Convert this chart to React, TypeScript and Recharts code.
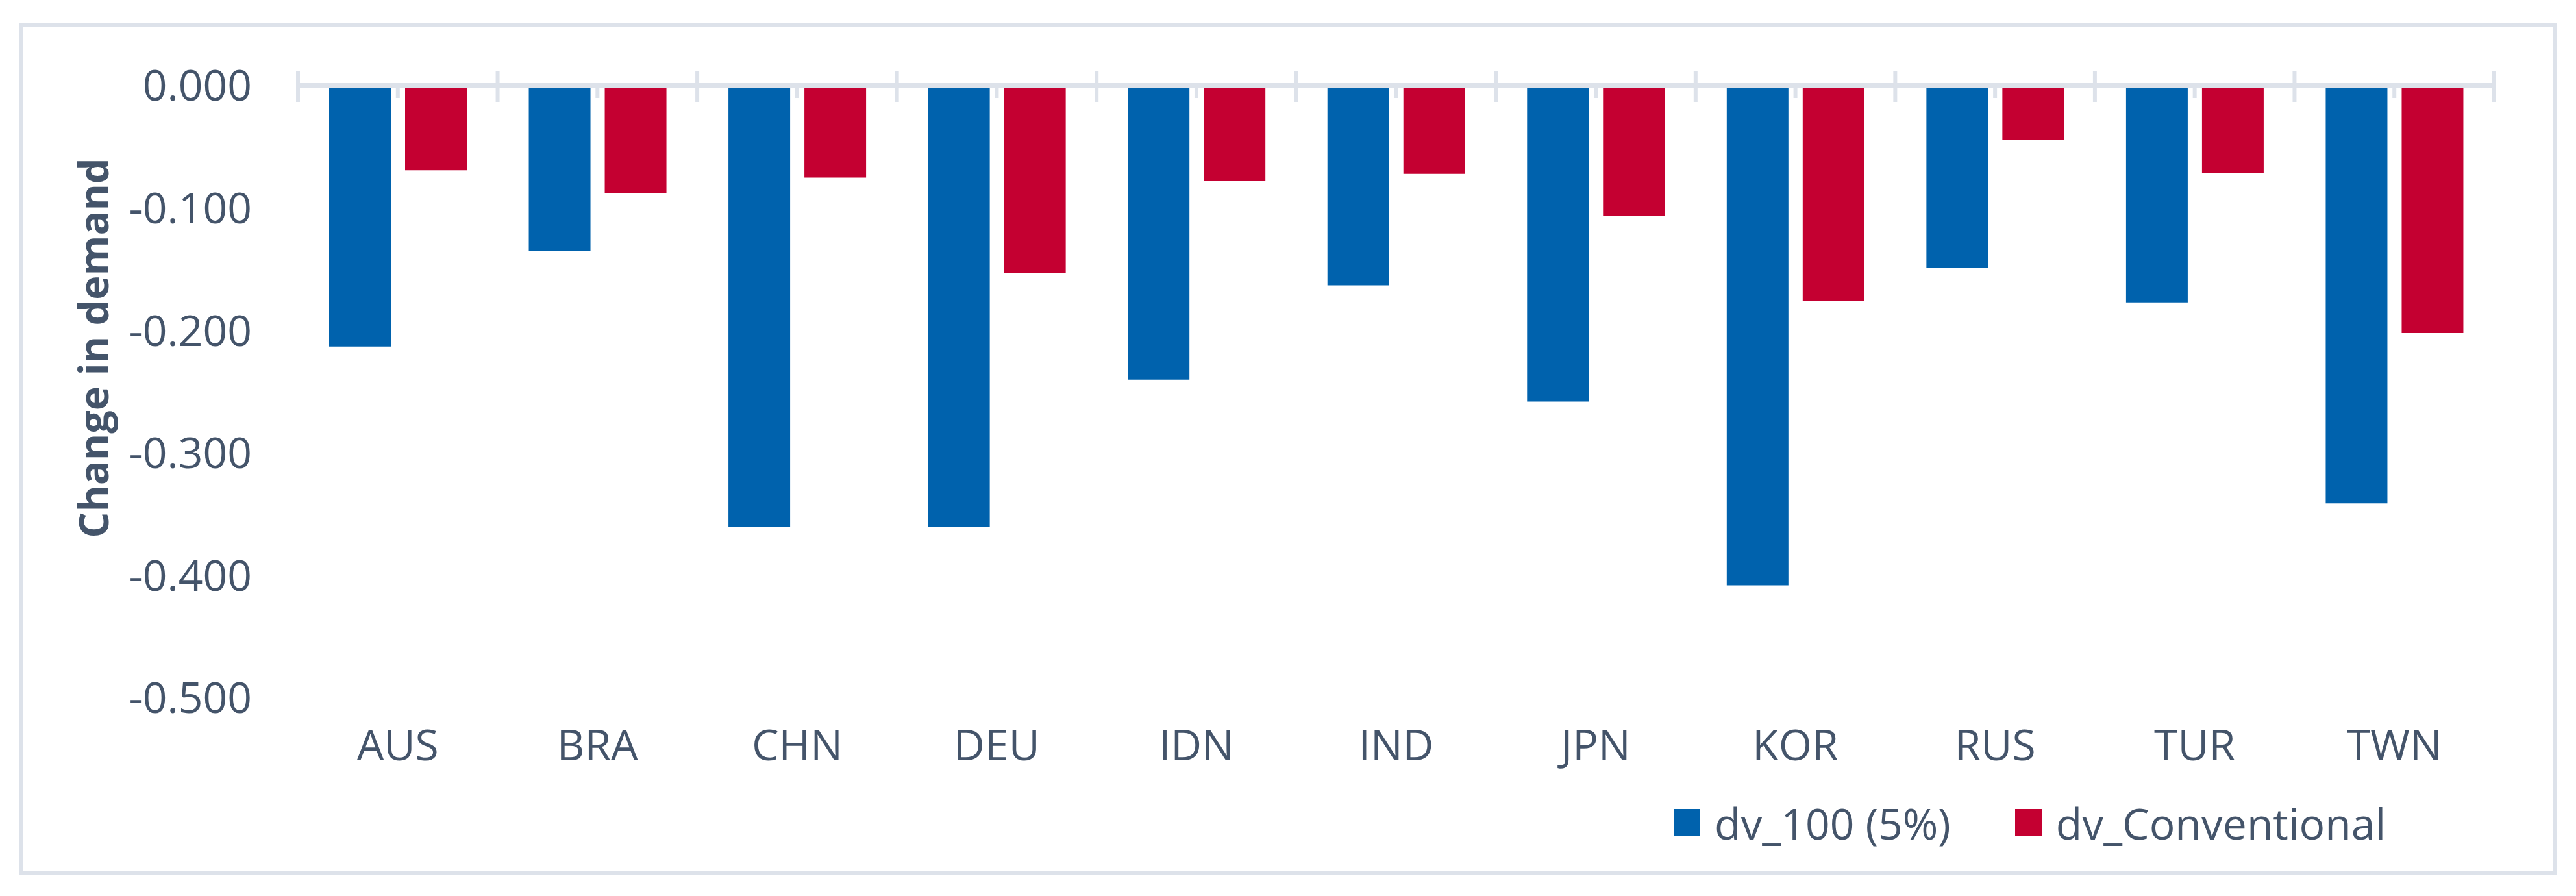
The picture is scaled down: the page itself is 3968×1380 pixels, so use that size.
import { BarChart, Bar, XAxis, YAxis, ReferenceLine } from "recharts";

const countries = ["AUS", "BRA", "CHN", "DEU", "IDN", "IND", "JPN", "KOR", "RUS", "TUR", "TWN"];
const dv100 = [-0.213, -0.135, -0.36, -0.36, -0.24, -0.163, -0.258, -0.408, -0.149, -0.177, -0.341];
const dvConventional = [-0.069, -0.088, -0.075, -0.153, -0.078, -0.072, -0.106, -0.176, -0.044, -0.071, -0.202];
const seriesNames = ["dv_100 (5%)", "dv_Conventional"];
const yTicks = [0, -0.1, -0.2, -0.3, -0.4, -0.5];

const BLUE = "#0062ad";
const RED = "#c40031";
const TEXT = "#44546a";
const GRID = "#dde2ea";
const FONT = "'Open Sans', sans-serif";

const data = countries.map((c, i) => ({
  name: c,
  dv100: dv100[i],
  dvConventional: dvConventional[i],
}));

// top axis: short tick at each category centre, crossing tick on each category boundary
function AxisMark(props: any) {
  const { x, y, payload, index, visibleTicksCount } = props;
  const half = payload && payload.offset ? payload.offset : 153.75;
  const last = index === visibleTicksCount - 1;
  return (
    <g>
      <line x1={x} x2={x} y1={y + 4} y2={y + 19} stroke={GRID} strokeWidth={6} />
      <line x1={x - half} x2={x - half} y1={y - 23} y2={y + 25} stroke={GRID} strokeWidth={6} />
      {last && <line x1={x + half} x2={x + half} y1={y - 23} y2={y + 25} stroke={GRID} strokeWidth={6} />}
    </g>
  );
}

function AxisTitle() {
  return (
    <text
      x={142}
      y={536}
      transform="rotate(-90 142 536)"
      textAnchor="middle"
      dominantBaseline="central"
      fill={TEXT}
      fontFamily={FONT}
      fontWeight={700}
      fontSize={63}
    >
      Change in demand
    </text>
  );
}

export default function App() {
  const colors = [BLUE, RED];
  return (
    <div style={{ position: "absolute", left: 0, top: 0, width: 3968, height: 1380, background: "#fff" }}>
      <div
        style={{
          position: "absolute",
          left: 30,
          top: 35,
          width: 3908,
          height: 1313,
          border: `6px solid ${GRID}`,
          boxSizing: "border-box",
        }}
      />
      <div style={{ position: "absolute", left: 0, top: 0 }}>
        <BarChart
          width={3968}
          height={1380}
          data={data}
          margin={{ top: 92, right: 126, left: 0, bottom: 205 }}
          barCategoryGap={48}
          barGap={22}
        >
          <XAxis
            dataKey="name"
            axisLine={false}
            tickLine={false}
            tickSize={0}
            tickMargin={49}
            height={100}
            interval={0}
            tick={{ fill: TEXT, fontSize: 66, fontFamily: FONT }}
          />
          <XAxis
            xAxisId="marks"
            dataKey="name"
            orientation="top"
            interval={0}
            axisLine={false}
            tickLine={false}
            tickSize={0}
            tickMargin={0}
            height={40}
            tick={<AxisMark />}
          />
          <YAxis
            domain={[-0.5, 0]}
            ticks={yTicks}
            width={459}
            axisLine={false}
            tickLine={false}
            tickSize={0}
            tickMargin={71}
            interval={0}
            tickFormatter={(v: number) => v.toFixed(3)}
            tick={{ fill: TEXT, fontSize: 66, fontFamily: FONT }}
            label={<AxisTitle />}
          />
          <Bar dataKey="dv100" name={seriesNames[0]} fill={BLUE} isAnimationActive={false} />
          <Bar dataKey="dvConventional" name={seriesNames[1]} fill={RED} isAnimationActive={false} />
          <ReferenceLine y={0} stroke={GRID} strokeWidth={8} />
        </BarChart>
      </div>
      <div
        style={{
          position: "absolute",
          left: 2578,
          top: 1246,
          height: 41,
          display: "flex",
          alignItems: "center",
          fontFamily: FONT,
          fontSize: 66,
          color: TEXT,
          whiteSpace: "nowrap",
        }}
      >
        {seriesNames.map((n, i) => (
          <div key={n} style={{ display: "flex", alignItems: "center", marginRight: 99 }}>
            <div style={{ width: 41, height: 41, background: colors[i], marginRight: 22 }} />
            <span>{n}</span>
          </div>
        ))}
      </div>
    </div>
  );
}
